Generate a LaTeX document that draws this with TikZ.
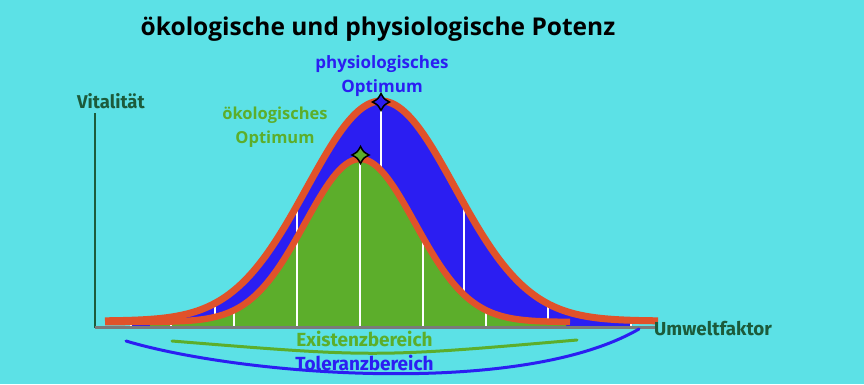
\documentclass[tikz,border=0pt]{standalone}
\usepackage{fontspec}
\setmainfont{Open Sans}
\newfontfamily\labfont{Fira Sans}
\definecolor{bgc}{HTML}{5CE1E6}
\definecolor{physblue}{HTML}{2B1EF2}
\definecolor{oekogreen}{HTML}{5CAE2B}
\definecolor{curveorange}{HTML}{E0522A}
\definecolor{darkgreen}{HTML}{1C5B3B}
\definecolor{axisgray}{HTML}{7A7A7A}
\pgfmathdeclarefunction{fo}{1}{\pgfmathparse{321-220*exp(-0.5*((#1-381)/74)^2)}}
\pgfmathdeclarefunction{fi}{1}{\pgfmathparse{322-163*exp(-0.5*((#1-360)/55)^2)}}
\tikzset{
  wline/.style={white, line width=1.8pt},
  orangeline/.style={curveorange, line width=6.5pt, line cap=butt, line join=round},
  txt/.style={inner sep=0pt, anchor=base},
  arcline/.style={line width=3pt, line cap=round},
}
\newcommand\optstar[3]{%
  \filldraw[fill=#3, draw=black, line width=1.5pt, line join=miter]
    (#1,#2-8.5) .. controls (#1+3,#2-3) .. (#1+8.5,#2)
    .. controls (#1+3,#2+3) .. (#1,#2+8.5)
    .. controls (#1-3,#2+3) .. (#1-8.5,#2)
    .. controls (#1-3,#2-3) .. cycle;}
\begin{document}
\begin{tikzpicture}[x=1pt,y=-1pt]
\fill[bgc] (0,0) rectangle (864,384);
\useasboundingbox (0,0) rectangle (864,384);
% title
\node[txt, font=\fontsize{24.5}{28}\selectfont\bfseries] (title) at (378,35) {ökologische und physiologische Potenz};
% axes
\draw[darkgreen, line width=2pt] (95,113) coordinate (ytop) -- (95,328) coordinate (origin);
% blue area
\fill[physblue] (130,327) -- plot[domain=130:632, samples=150] (\x,{fo(\x)}) -- (632,327) -- cycle;
\foreach \xx in {131,215,297,381,464,548,631}
  \draw[wline] (\xx,{fo(\xx)}) -- (\xx,327);
% green area
\fill[oekogreen] (150,327) -- plot[domain=150:566, samples=150] (\x,{fi(\x)}) -- (566,327) -- cycle;
\foreach \xx in {171,234,297,360,423,486}
  \draw[wline] (\xx,{fi(\xx)}) -- (\xx,327);
% x axis
\draw[axisgray, line width=2.5pt] (95,327.5) -- (657,327.5) coordinate (xend);
% orange outlines
\draw[orangeline] plot[domain=105:570, samples=150] (\x,{fi(\x)});
\draw[orangeline, line width=7pt] plot[domain=105:658, samples=180] (\x,{fo(\x)});
% stars
\optstar{381}{102}{physblue}
\optstar{360.5}{155}{oekogreen}
% labels
\node[txt, text=physblue, font=\fontsize{17}{20}\selectfont\bfseries] (phys1) at (382,68) {physiologisches};
\node[txt, text=physblue, font=\fontsize{17}{20}\selectfont\bfseries] (phys2) at (382,92) {Optimum};
\node[txt, text=oekogreen, font=\fontsize{16.5}{20}\selectfont\bfseries] (oeko1) at (275,119) {ökologisches};
\node[txt, text=oekogreen, font=\fontsize{16.5}{20}\selectfont\bfseries] (oeko2) at (275,143) {Optimum};
\node[txt, anchor=base west, text=darkgreen, font=\labfont\fontsize{18.5}{22}\selectfont\bfseries] (vital) at (77,108) {Vitalität};
\node[txt, anchor=base west, text=darkgreen, font=\labfont\fontsize{18.8}{22}\selectfont\bfseries] (umwelt) at (654,335) {Umweltfaktor};
% ranges
\draw[arcline, oekogreen] (172,341) coordinate (ea) .. controls (375,357.5) .. (577,340) coordinate (eb);
\draw[arcline, physblue] (126,341) coordinate (ta) .. controls (240,375) and (520,398) .. (639,329) coordinate (tb);
\node[txt, text=oekogreen, font=\labfont\fontsize{19}{22}\selectfont\bfseries] (exist) at (364.5,346.5) {Existenzbereich};
\node[txt, text=physblue, font=\labfont\fontsize{19}{22}\selectfont\bfseries] (toler) at (364.5,370.5) {Toleranzbereich};
\end{tikzpicture}
\end{document}
